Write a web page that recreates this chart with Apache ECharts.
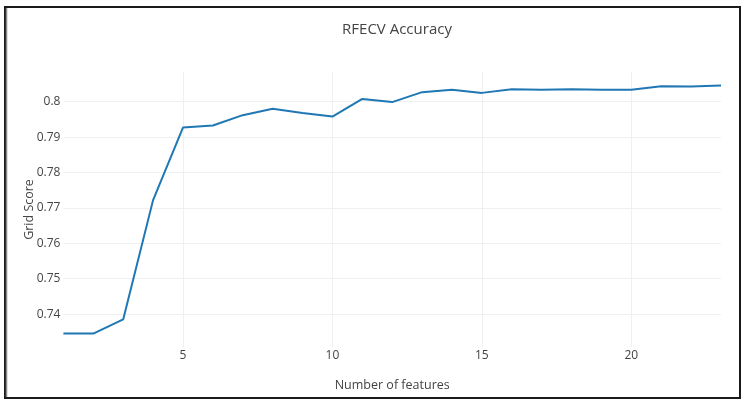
<!DOCTYPE html>
<html>
<head>
<meta charset="utf-8">
<script src="https://cdn.jsdelivr.net/npm/echarts@6/dist/echarts.min.js"></script>
<style>html,body{margin:0;padding:0;background:#fff}#c{width:750px;height:404px}</style>
</head>
<body>
<div id="c"></div>
<script>
const features = [1,2,3,4,5,6,7,8,9,10,11,12,13,14,15,16,17,18,19,20,21,22,23];
const scores = [0.7345,0.7345,0.7385,0.7722,0.7927,0.7933,0.7962,0.7980,0.7968,0.7958,0.8008,0.7999,0.8027,0.8034,0.8025,0.8035,0.8034,0.8035,0.8034,0.8034,0.8044,0.8043,0.8046];
const xTicks = [5,10,15,20];
const yTicks = [0.74,0.75,0.76,0.77,0.78,0.79,0.80];
const titleText = 'RFECV Accuracy';
const xTitle = 'Number of features';
const yTitle = 'Grid Score';

const font = '"Open Sans", "DejaVu Sans", sans-serif';
const chart = echarts.init(document.getElementById('c'), null, {renderer:'canvas'});
const gridStyle = {color:'#f0f0f0', width:1, type:'solid'};
chart.setOption({
  backgroundColor:'#ffffff',
  animation:false,
  title:{text:titleText, left:392, top:17, textAlign:'center',
    textStyle:{fontFamily:font, fontSize:15, fontWeight:'normal', color:'#444'}},
  grid:{left:63.4, right:29, top:72, bottom:57, containLabel:false},
  xAxis:{type:'value', min:1, max:23, splitNumber:4,
    name:xTitle, nameLocation:'middle', nameGap:32, nameMoveOverlap:false,
    nameTextStyle:{fontFamily:font, fontSize:12.5, color:'#444'},
    axisLine:{show:false}, axisTick:{show:false}, splitLine:{show:false},
    axisLabel:{fontFamily:font, fontSize:12, color:'#444', margin:3,
      showMinLabel:false, showMaxLabel:false,
      formatter:v => (xTicks.indexOf(v) >= 0 ? String(v) : '')}},
  yAxis:{type:'value', min:0.7307, max:0.8084, splitNumber:8,
    name:yTitle, nameLocation:'middle', nameGap:27, nameMoveOverlap:false,
    nameTextStyle:{fontFamily:font, fontSize:12.5, color:'#444'},
    axisLine:{show:false}, axisTick:{show:false}, splitLine:{show:false},
    axisLabel:{fontFamily:font, fontSize:12, color:'#444', margin:3,
      showMinLabel:false, showMaxLabel:false,
      formatter:v => {const m = yTicks.find(t => Math.abs(t - v) < 1e-6); return m === undefined ? '' : String(+m.toFixed(2));}}},
  graphic:[
    {type:'rect', shape:{x:5, y:7, width:735, height:391}, z:100,
      style:{fill:'none', stroke:'#1a1a1a', lineWidth:2}, silent:true},
    {type:'line', shape:{x1:6.5, y1:8, x2:6.5, y2:397}, z:100,
      style:{stroke:'#888', lineWidth:1.5}, silent:true}
  ],
  series:[
    {type:'line', data:[], z:1, silent:true,
      markLine:{silent:true, symbol:['none','none'], label:{show:false},
        lineStyle:gridStyle, animation:false,
        data:[...xTicks.map(x => ({xAxis:x})), ...yTicks.map(y => ({yAxis:y}))]}},
    {type:'line', z:5, data:features.map((f,i) => [f, scores[i]]),
      showSymbol:false, symbol:'none',
      lineStyle:{color:'#1f77b4', width:2}, itemStyle:{color:'#1f77b4'}}
  ]
});
</script>
</body>
</html>
